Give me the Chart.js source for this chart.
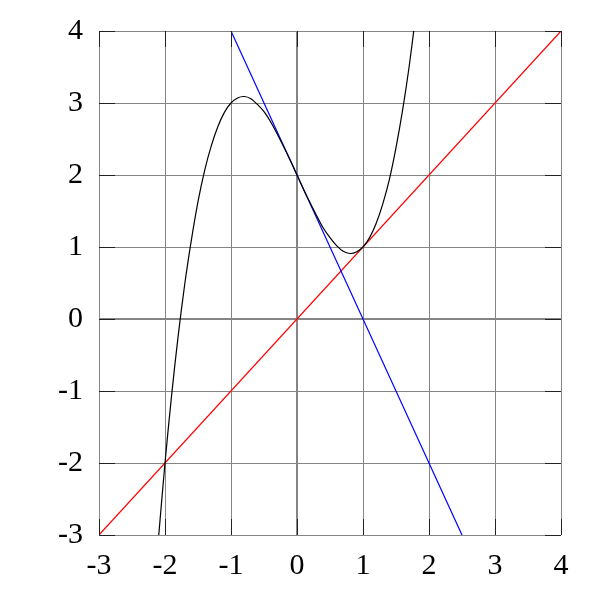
<!DOCTYPE html>
<html>
<head>
<meta charset="utf-8">
<script src="https://cdn.jsdelivr.net/npm/chart.js@4/dist/chart.umd.min.js"></script>
<style>
  html, body { margin: 0; padding: 0; background: #fff; }
  #wrap { width: 600px; height: 600px; }
</style>
</head>
<body>
<div id="wrap"><canvas id="c" width="600" height="600"></canvas></div>
<script>
// Black curve
const curveX = [-2.1,-2.0,-1.9,-1.8,-1.7,-1.6,-1.5,-1.4,-1.3,-1.2,-1.1,-1.0,-0.9,-0.8,-0.7,-0.6,-0.5,-0.4,-0.3,-0.2,-0.1,0.0,0.1,0.2,0.3,0.4,0.5,0.6,0.7,0.8,0.9,1.0,1.1,1.2,1.3,1.4,1.5,1.6,1.7,1.8];
const curveY = [-3.06,-2.0,-1.06,-0.23,0.49,1.10,1.63,2.06,2.40,2.67,2.87,3.0,3.07,3.09,3.06,2.98,2.88,2.74,2.57,2.39,2.20,2.0,1.80,1.61,1.43,1.26,1.13,1.02,0.94,0.91,0.93,1.0,1.13,1.33,1.60,1.94,2.38,2.90,3.51,4.23];
// Blue tangent line
const blueX = [-1, 2.5];
const blueY = [4, -3];
// Red diagonal line
const redX = [-3, 4];
const redY = [-3, 4];
// Tick labels
const xTicks = [-3,-2,-1,0,1,2,3,4];
const yTicks = [-3,-2,-1,0,1,2,3,4];

const toPts = (xs, ys) => xs.map((x, i) => ({x: x, y: ys[i]}));

const innerTicks = {
  id: 'innerTicks',
  afterDatasetsDraw(chart) {
    const {ctx, chartArea: a, scales: {x, y}} = chart;
    ctx.save();
    ctx.strokeStyle = '#222';
    ctx.lineWidth = 1;
    const L = 16;
    ctx.beginPath();
    xTicks.forEach(v => {
      const px = Math.round(x.getPixelForValue(v)) + 0.5;
      ctx.moveTo(px, a.bottom); ctx.lineTo(px, a.bottom - L);
      ctx.moveTo(px, a.top); ctx.lineTo(px, a.top + L);
    });
    yTicks.forEach(v => {
      const py = Math.round(y.getPixelForValue(v)) + 0.5;
      ctx.moveTo(a.left, py); ctx.lineTo(a.left + L, py);
      ctx.moveTo(a.right, py); ctx.lineTo(a.right - L, py);
    });
    ctx.stroke();
    ctx.restore();
  }
};

const labelFont = {family: 'Liberation Serif', size: 30};

new Chart(document.getElementById('c'), {
  type: 'scatter',
  data: {
    datasets: [
      {data: toPts(curveX, curveY), showLine: true, borderColor: '#000', borderWidth: 1.2, pointRadius: 0, tension: 0.3, fill: false},
      {data: toPts(blueX, blueY), showLine: true, borderColor: '#0000ff', borderWidth: 1.2, pointRadius: 0, fill: false},
      {data: toPts(redX, redY), showLine: true, borderColor: '#ff0000', borderWidth: 1.2, pointRadius: 0, fill: false}
    ]
  },
  options: {
    responsive: false,
    animation: false,
    layout: {padding: {left: 0, right: 39, top: 31, bottom: 0}},
    plugins: {legend: {display: false}, tooltip: {enabled: false}},
    scales: {
      x: {
        type: 'linear', min: -3, max: 4,
        afterBuildTicks: s => { s.ticks = xTicks.map(v => ({value: v})); },
        afterFit: s => { s.height = 65; s.paddingLeft = 0; s.paddingRight = 0; },
        ticks: {font: labelFont, color: '#000', padding: 13, maxRotation: 0, autoSkip: false, callback: v => String(v)},
        grid: {color: '#858585', lineWidth: c => (c.tick && c.tick.value === 0 ? 2 : 1), drawTicks: false},
        border: {display: false}
      },
      y: {
        type: 'linear', min: -3, max: 4,
        afterBuildTicks: s => { s.ticks = yTicks.map(v => ({value: v})); },
        afterFit: s => { s.width = 99; s.paddingTop = 0; s.paddingBottom = 0; },
        ticks: {font: labelFont, color: '#000', padding: 16, autoSkip: false, callback: v => String(v)},
        grid: {color: '#858585', lineWidth: c => (c.tick && c.tick.value === 0 ? 2 : 1), drawTicks: false},
        border: {display: false}
      }
    }
  },
  plugins: [innerTicks]
});
</script>
</body>
</html>
